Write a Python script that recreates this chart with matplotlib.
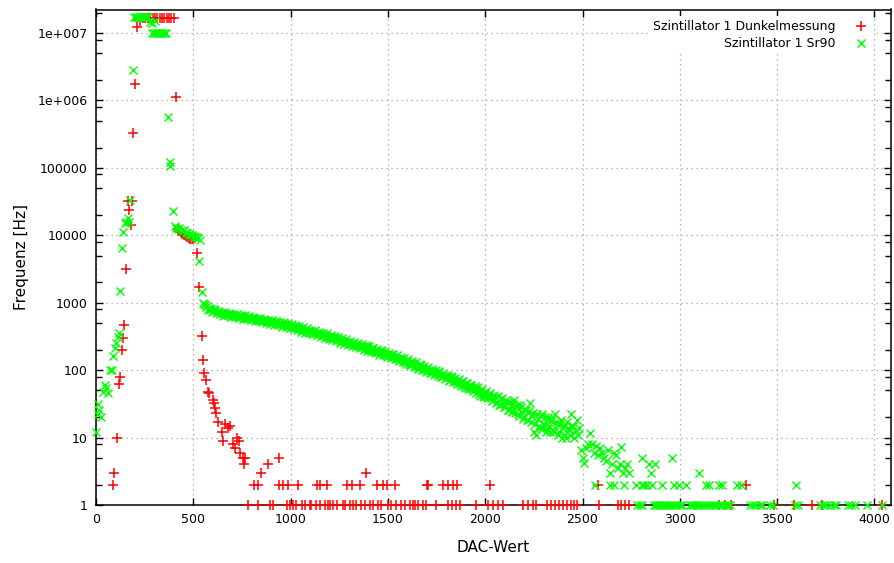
import numpy as np
import matplotlib
matplotlib.use('Agg')
import matplotlib.pyplot as plt
from matplotlib.ticker import FixedLocator, FixedFormatter, NullFormatter


# --------------------------------------------------------------------------------
# Messdaten ----------------------------------------------------------------------
# --------------------------------------------------------------------------------

# Szintillator 1, Dunkelmessung
dunkel_x = [86, 92, 108, 118, 123, 132, 140, 144, 152, 162, 170, 178, 186, 192, 200, 212,
            226, 240, 254, 267, 279, 291, 303, 315, 327, 339, 351, 363, 375, 387, 399, 412,
            420, 428, 436, 444, 452, 460, 468, 476, 484, 492, 500, 508, 518, 530,
            543, 548, 556, 565, 573, 580, 599, 606, 611, 616, 628, 645, 654, 662, 679, 691,
            705, 713, 725, 736, 739, 753, 758, 765, 850, 885, 938, 1389]
dunkel_y = [2, 3, 10, 63, 80, 200, 300, 470, 3200, 32000, 24000, 14000, 32000, 3.3e5, 1.73e6, 1.23e7,
            1.5e7, 1.68e7, 1.68e7, 1.68e7, 1.68e7, 1.68e7, 1.68e7, 1.68e7, 1.68e7, 1.68e7, 1.68e7, 1.68e7, 1.68e7, 1.68e7, 1.68e7, 1.12e6,
            12500, 11500, 11000, 10500, 10000, 9600, 9300, 9000, 8900, 8700, 8800, 9000, 5400, 1700,
            320, 141, 90, 71, 48, 46, 36, 33, 27, 23, 17, 12, 9, 16, 14, 15,
            8, 7, 10, 9, 6, 5, 4, 5, 3, 4, 5, 3]

# Dunkelmessung: Kanaele mit 2 Hz
dunkel_x2 = [811, 832, 940, 960, 986, 1037, 1134, 1150, 1186, 1288, 1314, 1355, 1442, 1473,
             1494, 1535, 1700, 1706, 1781, 1807, 1833, 1853, 2023, 2582, 3342]
dunkel_y2 = [2] * len(dunkel_x2)

# Dunkelmessung: Kanaele mit 1 Hz
dunkel_x1 = [782, 833, 893, 910, 979, 996, 1013, 1030, 1056, 1073, 1099, 1107, 1133, 1150,
             1176, 1193, 1201, 1218, 1236, 1270, 1278, 1304, 1321, 1338, 1364, 1381, 1407,
             1424, 1449, 1467, 1501, 1518, 1544, 1569, 1586, 1612, 1629, 1637, 1655, 1680,
             1697, 1749, 1810, 1830, 1850, 1870, 1954, 2015, 2040, 2065, 2090, 2195, 2220,
             2245, 2262, 2315, 2340, 2360, 2380, 2400, 2420, 2440, 2455, 2470, 2587, 2680,
             2700, 2720, 2740, 3203, 3230, 3265, 3486, 3588, 3681, 3732, 4040]
dunkel_y1 = [1] * len(dunkel_x1)

# Szintillator 1, Sr90 - Anstieg und Saettigung
sr90_x = [0, 8, 12, 16, 24, 36, 44, 52, 60, 72, 80, 88, 96, 104, 112, 118, 123, 132, 140,
          148, 156, 164, 172, 176, 188, 196, 204, 212, 220, 228, 236, 244, 252, 260, 267,
          277, 290, 303, 288, 296, 304, 312, 320, 328, 336, 344, 352, 360, 370, 378, 382, 397,
          405, 413, 421, 429, 437, 445, 453, 461, 469, 477, 485, 493, 501, 509, 517, 525, 534, 530, 543]
sr90_y = [12, 32, 22, 26, 20, 48, 60, 55, 46, 100, 100, 160, 210, 250, 310, 350, 1500, 6500, 11000,
          15000, 16000, 18000, 16000, 33000, 2.8e6, 1.74e7, 1.74e7, 1.74e7, 1.74e7, 1.74e7, 1.74e7, 1.74e7, 1.74e7, 1.74e7, 1.74e7,
          1.45e7, 1.4e7, 1.5e7, 1.0e7, 1.0e7, 1.0e7, 1.0e7, 1.0e7, 1.0e7, 1.0e7, 1.0e7, 1.0e7, 1.0e7, 5.6e5, 1.24e5, 1.08e5, 23000,
          13500, 13000, 12500, 12800, 12000, 11500, 11800, 11000, 10800, 10500, 10200, 10000, 9800, 9500, 9300, 9000, 8500, 4200, 1450]

# Sr90 - Spektrum, erster Durchlauf (550 ... 2480, Schritt 10)
sr90_spek_x = list(range(550, 2490, 10))
sr90_spek_y = [
    1000, 920, 880, 830, 800, 760, 780, 730, 720, 700,
    710, 680, 690, 660, 670, 650, 640, 660, 630, 620,
    630, 610, 600, 615, 590, 580, 595, 570, 560, 575,
    550, 540, 555, 530, 520, 535, 510, 500, 515, 495,
    490, 470, 480, 460, 450, 465, 440, 430, 445, 420,
    410, 395, 400, 380, 385, 370, 360, 375, 350, 345,
    340, 330, 335, 320, 310, 315, 300, 295, 305, 285,
    280, 270, 275, 260, 265, 250, 245, 255, 240, 235,
    230, 225, 220, 215, 225, 205, 200, 210, 195, 190,
    185, 180, 190, 175, 170, 165, 160, 172, 155, 150,
    148, 140, 145, 135, 130, 138, 125, 120, 128, 115,
    112, 108, 118, 104, 100, 106, 96, 92, 98, 90,
    88, 95, 84, 80, 86, 76, 82, 72, 78, 70,
    66, 72, 62, 68, 58, 64, 55, 60, 52, 50,
    54, 48, 45, 50, 42, 46, 40, 44, 38, 36,
    40, 34, 30, 37, 32, 28, 34, 26, 30, 25,
    36, 28, 22, 30, 24, 20, 26, 18, 33, 21,
    12, 11, 19, 14, 22, 16, 12, 20, 15, 18,
    13, 22, 16, 12, 18, 14, 11, 17, 13, 22,
    15, 12, 18, 14,
]

# Sr90 - Spektrum, zweiter Durchlauf (555 ... 2475, Schritt 10)
sr90_spek2_x = list(range(555, 2485, 10))
sr90_spek2_y = [
    950, 860, 790, 820, 740, 800, 700, 760, 680, 740,
    640, 720, 650, 700, 620, 690, 610, 680, 600, 650,
    580, 650, 570, 630, 560, 620, 540, 600, 530, 590,
    510, 580, 500, 560, 490, 550, 470, 540, 460, 520,
    440, 510, 430, 500, 420, 480, 410, 470, 390, 450,
    370, 430, 360, 420, 350, 400, 340, 390, 330, 370,
    310, 360, 300, 350, 290, 330, 280, 320, 270, 310,
    255, 295, 245, 285, 235, 275, 225, 265, 220, 255,
    210, 245, 200, 235, 195, 225, 185, 215, 180, 205,
    170, 198, 165, 190, 158, 180, 150, 172, 145, 165,
    135, 158, 130, 150, 122, 145, 118, 138, 112, 130,
    105, 122, 100, 116, 95, 110, 90, 104, 86, 100,
    82, 96, 78, 90, 74, 86, 70, 82, 66, 76,
    62, 74, 58, 70, 55, 64, 52, 61, 49, 58,
    46, 56, 42, 52, 40, 49, 38, 46, 35, 43,
    33, 41, 30, 38, 28, 36, 26, 34, 24, 32,
    23, 30, 21, 28, 19, 26, 18, 25, 17, 23,
    16, 22, 15, 21, 14, 20, 13, 19, 12, 18,
    12, 17, 11, 16, 10, 15, 10, 14, 11, 15,
    10, 13, 11,
]

# Sr90 - Auslaeufer oberhalb 2480
sr90_rest_x = [2490, 2500, 2510, 2520, 2530, 2536, 2550, 2560, 2570, 2580, 2590, 2600, 2610,
               2620, 2630, 2640, 2650, 2660, 2670, 2680, 2690, 2700, 2710, 2720, 2730, 2740,
               2808, 2840, 2851, 2870, 2962, 3100]
sr90_rest_y = [6.6, 5, 4.2, 7, 8, 11.7, 8, 6, 7.5, 5.5, 7, 6, 5,
               4.5, 6.5, 3, 4, 6, 5.5, 3.5, 4, 7.3, 3, 3.5, 4, 3,
               5, 4, 3, 4, 5, 3]

sr90_x2 = [2562, 2639, 2664, 2715, 2777, 2803, 2818, 2833, 2859, 2910, 2972, 2998, 3034,
           3136, 3152, 3203, 3218, 3295, 3316, 3598]
sr90_y2 = [2] * len(sr90_x2)

sr90_x1 = [2780, 2795, 2805, 2865, 2875, 2885, 2895, 2905, 2920, 2930, 2945, 2955, 2970,
           2985, 3000, 3010, 3050, 3060, 3075, 3090, 3100, 3115, 3130, 3145, 3160, 3175,
           3185, 3200, 3215, 3230, 3245, 3260, 3360, 3375, 3390, 3410, 3420, 3465, 3480,
           3590, 3605, 3720, 3735, 3750, 3770, 3790, 3800, 3865, 3880, 3900, 3960, 4040]
sr90_y1 = [1] * len(sr90_x1)

y_ticks = [1, 10, 100, 1000, 10000, 100000, 1e6, 1e7]
y_tick_labels = ['1', '10', '100', '1000', '10000', '100000', '1e+006', '1e+007']
x_ticks = [0, 500, 1000, 1500, 2000, 2500, 3000, 3500, 4000]

# --------------------------------------------------------------------------------
# --------------------------------------------------------------------------------

dx = np.concatenate([dunkel_x, dunkel_x2, dunkel_x1])
dy = np.concatenate([dunkel_y, dunkel_y2, dunkel_y1])
sx = np.concatenate([sr90_x, sr90_spek_x, sr90_spek2_x, sr90_rest_x, sr90_x2, sr90_x1])
sy = np.concatenate([sr90_y, sr90_spek_y, sr90_spek2_y, sr90_rest_y, sr90_y2, sr90_y1])

plt.rcParams['font.family'] = 'DejaVu Sans'

fig = plt.figure(figsize=(8.94, 5.63), dpi=100)
ax = fig.add_axes([96 / 894, 1 - 505 / 563, 795 / 894, 495.5 / 563])

ax.plot(dx, dy, linestyle='none', marker='+', color='#ff0000', markersize=7,
        markeredgewidth=1.1, clip_on=False, label='Szintillator 1 Dunkelmessung', zorder=3)
ax.plot(sx, sy, linestyle='none', marker='x', color='#00ff00', markersize=5.5,
        markeredgewidth=1.0, clip_on=False, label='Szintillator 1 Sr90', zorder=3)

ax.set_yscale('log')
ax.set_xlim(0, 4085)
ax.set_ylim(1, 2.23e7)

ax.xaxis.set_major_locator(FixedLocator(x_ticks))
ax.yaxis.set_major_locator(FixedLocator(y_ticks))
ax.yaxis.set_major_formatter(FixedFormatter(y_tick_labels))
minor = [m * 10 ** e for e in range(0, 8) for m in (2, 5, 8)]
ax.yaxis.set_minor_locator(FixedLocator(minor))
ax.yaxis.set_minor_formatter(NullFormatter())

ax.tick_params(which='both', direction='in', top=True, right=True, labelsize=9,
               colors='black', pad=6)
ax.tick_params(which='major', length=5, width=1)
ax.tick_params(which='minor', length=4, width=1)

ax.grid(True, which='major', linestyle=(0, (1, 3)), color='#a0a0a0', linewidth=0.9)
ax.set_axisbelow(True)
for s in ax.spines.values():
    s.set_linewidth(1.1)
    s.set_color('black')

ax.set_xlabel('DAC-Wert', fontsize=11, labelpad=10)
ax.set_ylabel('Frequenz [Hz]', fontsize=11, labelpad=6)

leg = ax.legend(loc='upper right', bbox_to_anchor=(0.977, 0.986), borderaxespad=0,
                markerfirst=False, alignment='right', fontsize=9, frameon=True,
                handlelength=1.2, handletextpad=1.5, labelspacing=0.3, borderpad=0.3)
leg.get_frame().set_facecolor('white')
leg.get_frame().set_edgecolor('none')
leg.get_frame().set_alpha(1)
leg.get_frame().set_boxstyle('square', pad=0)

fig.savefig('out.png', dpi=100)
